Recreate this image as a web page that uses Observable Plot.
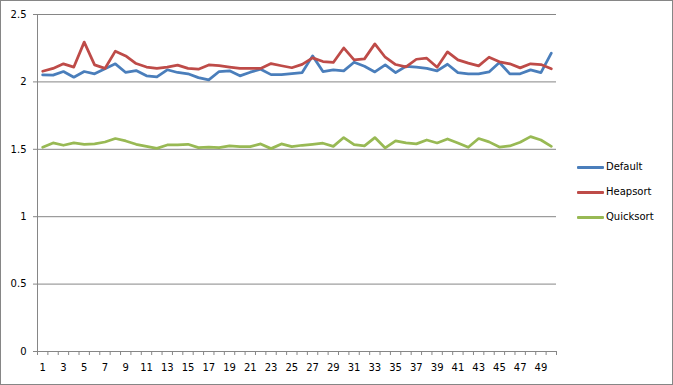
<!DOCTYPE html>
<html>
<head>
<meta charset="utf-8">
<script src="https://cdn.jsdelivr.net/npm/d3@7"></script>
<script src="https://cdn.jsdelivr.net/npm/@observablehq/plot@0.6"></script>
<style>
  html, body { margin: 0; padding: 0; background: #fff; }
  #wrap { position: relative; width: 673px; height: 385px; overflow: hidden; }
  #wrap svg { position: absolute; left: 0; top: 0; }
  #border { position: absolute; left: 0; top: 0; width: 673px; height: 385px; box-sizing: border-box; border: 1px solid #868686; pointer-events: none; }
  .legend { position: absolute; left: 577px; font: 10px "DejaVu Sans", sans-serif; color: #000; }
  .legend .item { position: absolute; left: 0; height: 14px; white-space: nowrap; }
  .legend .swatch { position: absolute; left: 0; top: 6px; width: 27px; height: 3px; border-radius: 1px; }
  .legend .label { position: absolute; left: 29px; top: 0; line-height: 14px; }
</style>
</head>
<body>
<div id="wrap"><div id="border"></div></div>
<script>
const categories = [1,2,3,4,5,6,7,8,9,10,11,12,13,14,15,16,17,18,19,20,21,22,23,24,25,26,27,28,29,30,31,32,33,34,35,36,37,38,39,40,41,42,43,44,45,46,47,48,49,50];
const xTickLabels = [1,3,5,7,9,11,13,15,17,19,21,23,25,27,29,31,33,35,37,39,41,43,45,47,49];
const yTicks = [0, 0.5, 1, 1.5, 2, 2.5];
const seriesNames = ["Default", "Heapsort", "Quicksort"];
const seriesColors = ["#4A7EBB", "#BE4B48", "#98B954"];

const defaultValues = [2.052,2.05,2.077,2.035,2.077,2.06,2.097,2.134,2.07,2.084,
  2.045,2.037,2.09,2.07,2.06,2.032,2.015,2.077,2.082,2.045,
  2.072,2.094,2.054,2.054,2.062,2.069,2.193,2.077,2.089,2.082,
  2.146,2.116,2.074,2.126,2.069,2.116,2.109,2.10,2.082,2.131,
  2.069,2.06,2.06,2.074,2.144,2.06,2.06,2.089,2.069,2.213];
const heapsortValues = [2.079,2.10,2.134,2.11,2.295,2.126,2.10,2.228,2.193,2.136,
  2.11,2.10,2.11,2.124,2.10,2.094,2.126,2.12,2.11,2.10,
  2.10,2.10,2.136,2.12,2.105,2.13,2.178,2.151,2.144,2.252,
  2.163,2.171,2.282,2.183,2.129,2.111,2.168,2.176,2.109,2.223,
  2.163,2.139,2.119,2.183,2.149,2.134,2.104,2.134,2.129,2.097];
const quicksortValues = [1.515,1.547,1.53,1.547,1.537,1.54,1.554,1.58,1.562,1.537,
  1.522,1.507,1.532,1.532,1.537,1.512,1.517,1.512,1.525,1.52,
  1.52,1.54,1.505,1.54,1.52,1.53,1.537,1.545,1.522,1.587,
  1.535,1.525,1.587,1.51,1.562,1.547,1.54,1.569,1.547,1.577,
  1.547,1.515,1.58,1.555,1.517,1.525,1.552,1.594,1.569,1.522];

const allValues = [defaultValues, heapsortValues, quicksortValues];
const rows = [];
seriesNames.forEach((name, s) => {
  categories.forEach((c, i) => rows.push({series: name, x: c, y: allValues[s][i]}));
});
const boundaries = categories.map(c => c - 0.5).concat([categories[categories.length - 1] + 0.5]);
const gray = "#868686";

const chart = Plot.plot({
  width: 673,
  height: 385,
  marginLeft: 37,
  marginRight: 117,
  marginTop: 14,
  marginBottom: 34,
  style: {fontFamily: "'DejaVu Sans', sans-serif", fontSize: "10px", background: "transparent", color: "#000"},
  x: {type: "linear", domain: [boundaries[0], boundaries[boundaries.length - 1]]},
  y: {domain: [0, 2.5]},
  color: {domain: seriesNames, range: seriesColors},
  marks: [
    Plot.gridY(yTicks.filter(t => t > 0), {stroke: gray, strokeOpacity: 1, strokeWidth: 1}),
    Plot.ruleX([boundaries[0]], {stroke: gray, strokeWidth: 1}),
    Plot.ruleY([0], {stroke: gray, strokeWidth: 1}),
    Plot.axisY(yTicks, {tickSize: 4, tickPadding: 7, stroke: gray, fill: "#000", label: null, tickFormat: d => String(d)}),
    Plot.axisX(boundaries, {tickSize: 4, tickFormat: () => "", stroke: gray, label: null}),
    Plot.axisX(xTickLabels, {tickSize: 0, tickPadding: 12, fill: "#000", label: null, tickFormat: d => String(d)}),
    Plot.line(rows, {x: "x", y: "y", z: "series", stroke: "series", strokeWidth: 2.75, strokeLinejoin: "round", strokeLinecap: "round"})
  ]
});
const wrap = document.getElementById("wrap");
wrap.insertBefore(chart, wrap.firstChild);

const legend = document.createElement("div");
legend.className = "legend";
const legendTops = [160, 185, 210];
seriesNames.forEach((name, i) => {
  const item = document.createElement("div");
  item.className = "item";
  item.style.top = legendTops[i] + "px";
  const sw = document.createElement("div");
  sw.className = "swatch";
  sw.style.background = seriesColors[i];
  const lb = document.createElement("div");
  lb.className = "label";
  lb.textContent = name;
  item.appendChild(sw);
  item.appendChild(lb);
  legend.appendChild(item);
});
wrap.appendChild(legend);
</script>
</body>
</html>
